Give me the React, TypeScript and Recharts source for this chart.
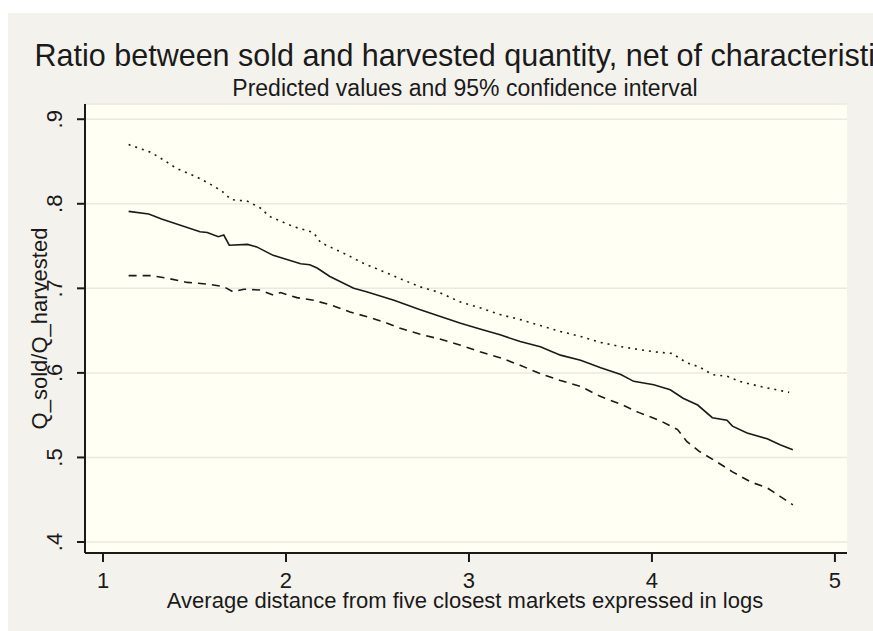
import { LineChart, Line, XAxis, YAxis, CartesianGrid } from 'recharts';

const FONT = '"Liberation Sans", Arial, sans-serif';

const xTicks = [1, 2, 3, 4, 5];
const yTicks = [0.4, 0.5, 0.6, 0.7, 0.8, 0.9];

// predicted values (solid)
const fitX = [1.14, 1.25, 1.32, 1.53, 1.57, 1.63, 1.66, 1.69, 1.79, 1.84, 1.93, 2.08, 2.13, 2.17, 2.24, 2.37, 2.44, 2.59, 2.73, 2.84, 2.95, 3.06, 3.17, 3.28, 3.39, 3.5, 3.61, 3.72, 3.83, 3.9, 4.01, 4.1, 4.17, 4.25, 4.33, 4.41, 4.44, 4.52, 4.63, 4.7, 4.77];
const fitY = [0.791, 0.788, 0.782, 0.767, 0.766, 0.761, 0.763, 0.751, 0.752, 0.749, 0.739, 0.729, 0.728, 0.724, 0.714, 0.7, 0.696, 0.686, 0.675, 0.667, 0.659, 0.652, 0.645, 0.637, 0.631, 0.621, 0.615, 0.606, 0.598, 0.59, 0.586, 0.58, 0.57, 0.562, 0.547, 0.544, 0.537, 0.529, 0.522, 0.515, 0.509];

// upper bound of the 95% interval (dotted)
const upperX = [1.14, 1.26, 1.33, 1.4, 1.51, 1.58, 1.65, 1.7, 1.79, 1.86, 1.91, 2.04, 2.15, 2.19, 2.33, 2.42, 2.53, 2.64, 2.73, 2.84, 2.95, 3.06, 3.17, 3.28, 3.39, 3.5, 3.61, 3.72, 3.83, 3.92, 4.01, 4.11, 4.19, 4.26, 4.33, 4.41, 4.48, 4.59, 4.75];
const upperY = [0.87, 0.861, 0.852, 0.842, 0.832, 0.824, 0.815, 0.805, 0.803, 0.795, 0.785, 0.773, 0.766, 0.754, 0.74, 0.73, 0.72, 0.71, 0.702, 0.695, 0.684, 0.677, 0.669, 0.663, 0.656, 0.649, 0.643, 0.636, 0.631, 0.628, 0.625, 0.623, 0.612, 0.607, 0.598, 0.596, 0.59, 0.584, 0.577];

// lower bound of the 95% interval (dashed)
const lowerX = [1.14, 1.26, 1.35, 1.46, 1.57, 1.66, 1.71, 1.77, 1.86, 1.93, 1.97, 2.06, 2.15, 2.25, 2.35, 2.45, 2.55, 2.62, 2.73, 2.84, 2.95, 3.06, 3.17, 3.28, 3.39, 3.5, 3.61, 3.72, 3.83, 3.93, 4.04, 4.14, 4.19, 4.26, 4.36, 4.44, 4.54, 4.63, 4.7, 4.77];
const lowerY = [0.715, 0.715, 0.712, 0.707, 0.705, 0.702, 0.696, 0.699, 0.698, 0.692, 0.695, 0.689, 0.686, 0.68, 0.672, 0.666, 0.659, 0.653, 0.646, 0.64, 0.633, 0.625, 0.618, 0.609, 0.599, 0.591, 0.584, 0.572, 0.563, 0.553, 0.544, 0.533, 0.519, 0.507, 0.494, 0.483, 0.471, 0.464, 0.454, 0.444];

const toPoints = (xs: number[], ys: number[]) => xs.map((x, i) => ({ x, y: ys[i] }));

const fitData = toPoints(fitX, fitY);
const upperData = toPoints(upperX, upperY);
const lowerData = toPoints(lowerX, lowerY);

const INK = '#1a1a1a';

function XTick({ x, y, payload }: any) {
  return (
    <text x={x} y={y + 24} textAnchor="middle" fontFamily={FONT} fontSize={22} fill={INK}>
      {payload.value}
    </text>
  );
}

function YTick({ x, y, payload }: any) {
  const label = payload.value.toFixed(1).replace(/^0/, '');
  const bx = x - 13;
  return (
    <text x={bx} y={y} transform={`rotate(-90 ${bx} ${y})`} textAnchor="middle" fontFamily={FONT} fontSize={22} fill={INK}>
      {label}
    </text>
  );
}

function YTitle({ viewBox }: any) {
  const cy = viewBox ? viewBox.y + viewBox.height / 2 : 329;
  return (
    <text x={47} y={cy} transform={`rotate(-90 47 ${cy})`} textAnchor="middle" fontFamily={FONT} fontSize={22} fill={INK}>
      Q_sold/Q_harvested
    </text>
  );
}

function XTitle() {
  return (
    <text x={465} y={608} textAnchor="middle" fontFamily={FONT} fontSize={22} fill={INK}>
      Average distance from five closest markets expressed in logs
    </text>
  );
}

export default function App() {
  return (
    <div style={{ position: 'fixed', left: 0, top: 0, width: 873, height: 631, background: '#fff', overflow: 'hidden' }}>
      <div style={{ position: 'absolute', left: 8, top: 13, right: 0, bottom: 0, background: '#f4f2ec' }} />
      <div style={{ position: 'absolute', left: 0, top: 40, width: 940, textAlign: 'center', whiteSpace: 'nowrap', fontFamily: FONT, fontSize: 30.5, lineHeight: '30px', color: INK }}>
        Ratio between sold and harvested quantity, net of characteristics
      </div>
      <div style={{ position: 'absolute', left: 0, top: 77, width: 930, textAlign: 'center', whiteSpace: 'nowrap', fontFamily: FONT, fontSize: 23, lineHeight: '23px', color: INK }}>
        Predicted values and 95% confidence interval
      </div>
      <div style={{ position: 'absolute', left: 0, top: 0 }}>
        <LineChart width={873} height={631} margin={{ top: 104, right: 26, bottom: 38, left: 25 }}>
          <CartesianGrid vertical={false} fill="#fffff3" fillOpacity={1} stroke="#ebe9e1" strokeWidth={1.5} />
          <XAxis
            type="number"
            dataKey="x"
            domain={[0.9016, 5.066]}
            ticks={xTicks}
            allowDataOverflow
            height={40}
            tickSize={9}
            stroke={INK}
            strokeWidth={2}
            tick={<XTick />}
            label={<XTitle />}
          />
          <YAxis
            type="number"
            dataKey="y"
            domain={[0.387, 0.918]}
            ticks={yTicks}
            allowDataOverflow
            width={60}
            tickSize={8}
            stroke={INK}
            strokeWidth={2}
            tick={<YTick />}
            label={<YTitle />}
          />
          <Line data={upperData} dataKey="y" type="linear" stroke={INK} strokeWidth={1.6} strokeDasharray="2 5" dot={false} isAnimationActive={false} />
          <Line data={fitData} dataKey="y" type="linear" stroke={INK} strokeWidth={1.6} dot={false} isAnimationActive={false} />
          <Line data={lowerData} dataKey="y" type="linear" stroke={INK} strokeWidth={1.6} strokeDasharray="8 6" dot={false} isAnimationActive={false} />
        </LineChart>
      </div>
    </div>
  );
}
